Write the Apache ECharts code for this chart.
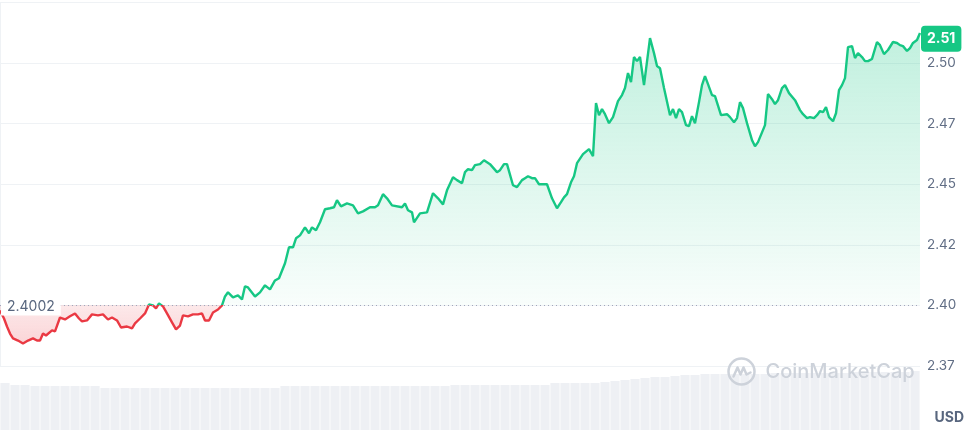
<!DOCTYPE html>
<html><head><meta charset="utf-8">
<script src="https://cdn.jsdelivr.net/npm/echarts@6/dist/echarts.min.js"></script>
<style>html,body{margin:0;padding:0;background:#fff}#c{width:970px;height:438px}</style>
</head><body><div id="c"></div>
<script>
// sample time index (24h window, ~94 s per unit)
const t = [0,4,7,10,13,18,23,28,33,37,40,43,46,48,52,55,57,60,65,70,75,79,82,87,92,98,103,108,112,117,121,127,132,135,140,145,149,153,156,159,163,167,172,176,180,183,188,193,198,202,205,209,213,218,222,225,228,233,238,242,245,248,255,260,265,270,275,279,285,289,293,296,300,305,309,312,316,320,325,330,334,337,341,347,353,358,363,370,375,378,383,387,392,402,405,408,412,414,420,427,433,438,443,447,453,457,462,465,468,472,475,480,484,490,497,500,504,507,513,517,522,525,528,532,535,539,547,552,557,561,564,567,571,574,577,579,583,585,589,593,596,599,602,605,609,613,615,618,622,625,628,631,634,637,640,644,650,654,657,660,664,670,673,676,679,682,686,689,692,695,699,702,705,708,712,715,721,727,730,734,737,740,743,747,752,755,758,765,768,772,775,778,782,785,789,795,800,803,807,810,814,817,820,823,826,829,833,836,839,842,845,848,852,855,858,862,865,868,872,874,877,880,884,888,893,897,900,903,907,910,913,917,920];
const price = [2.3979,2.3946,2.3913,2.3884,2.3864,2.3855,2.3843,2.3855,2.3864,2.3855,2.3855,2.3884,2.3876,2.3884,2.3897,2.3893,2.3893,2.3950,2.3942,2.3955,2.3967,2.3946,2.3934,2.3938,2.3963,2.3959,2.3963,2.3942,2.3950,2.3938,2.3909,2.3913,2.3905,2.3926,2.3946,2.3967,2.4004,2.4000,2.3988,2.4008,2.3996,2.3967,2.3930,2.3901,2.3917,2.3959,2.3955,2.3963,2.3963,2.3967,2.3938,2.3938,2.3971,2.3983,2.4000,2.4037,2.4054,2.4033,2.4041,2.4025,2.4079,2.4074,2.4037,2.4054,2.4083,2.4066,2.4103,2.4112,2.4174,2.4240,2.4240,2.4277,2.4289,2.4322,2.4298,2.4322,2.4310,2.4343,2.4397,2.4401,2.4405,2.4434,2.4409,2.4421,2.4413,2.4380,2.4388,2.4405,2.4405,2.4413,2.4459,2.4442,2.4413,2.4405,2.4421,2.4393,2.4384,2.4343,2.4380,2.4384,2.4463,2.4442,2.4417,2.4475,2.4529,2.4517,2.4504,2.4550,2.4562,2.4558,2.4579,2.4583,2.4599,2.4583,2.4550,2.4558,2.4583,2.4583,2.4496,2.4488,2.4517,2.4525,2.4533,2.4525,2.4525,2.4500,2.4500,2.4442,2.4401,2.4426,2.4446,2.4459,2.4508,2.4533,2.4587,2.4591,2.4624,2.4620,2.4645,2.4616,2.4835,2.4785,2.4810,2.4789,2.4752,2.4777,2.4785,2.4843,2.4868,2.4897,2.4959,2.4921,2.5025,2.5008,2.5025,2.4909,2.5103,2.5041,2.4988,2.4979,2.4897,2.4785,2.4810,2.4773,2.4810,2.4798,2.4744,2.4740,2.4781,2.4752,2.4839,2.4909,2.4946,2.4913,2.4868,2.4864,2.4785,2.4789,2.4777,2.4756,2.4773,2.4839,2.4814,2.4752,2.4682,2.4657,2.4674,2.4744,2.4872,2.4851,2.4831,2.4847,2.4897,2.4909,2.4876,2.4847,2.4806,2.4789,2.4773,2.4777,2.4773,2.4785,2.4802,2.4798,2.4818,2.4777,2.4760,2.4793,2.4888,2.4909,2.4938,2.5066,2.5070,2.5021,2.5041,2.5025,2.5008,2.5008,2.5017,2.5012,2.5087,2.5074,2.5037,2.5054,2.5087,2.5083,2.5074,2.5070,2.5050,2.5062,2.5083,2.5095,2.5124];
const basePrice = 2.4002;
const lastPriceLabel = '2.51';
// relative 24h volume bars
const volume = [47,45,45,44,44,44,44,44,44,44,42,42,42,42,42,42,42,42,42,42,42,42,42,42,42,42,42,42,44,44,44,44,44,44,44,44,44,44,44,44,44,44,44,44,44,45,45,45,45,45,45,45,45,45,45,47,47,47,47,47,48,49,50,51,52,53,53,54,55,55,56,56,56,56,56,56,56,57,57,57,57,57,57,57,57,58,58,58,58,58,58,59];
const yTicks = [2.375,2.4,2.425,2.45,2.475,2.5,2.525];

const GREEN = '#16c784', RED = '#ea3943';
const lineData = t.map((x,i)=>[x, price[i]]);
const upData = t.map((x,i)=>[x, Math.max(price[i], basePrice)]);
const dnData = t.map((x,i)=>[x, Math.min(price[i], basePrice)]);
const lastPrice = price[price.length-1];

const chart = echarts.init(document.getElementById('c'), null, {renderer:'canvas'});
chart.setOption({
  animation:false,
  grid:[
    {left:0, right:50, top:2.5, bottom:72},
    {left:0, right:50, top:330, bottom:8}
  ],
  xAxis:[
    {type:'value', min:0, max:920, show:false, gridIndex:0},
    {type:'category', gridIndex:1, show:false, boundaryGap:true, data:volume.map((v,i)=>i)}
  ],
  yAxis:[
    {type:'value', gridIndex:0, position:'right', min:yTicks[0], max:yTicks[yTicks.length-1], interval:0.025,
     axisLine:{show:true, lineStyle:{color:'#eff2f5'}}, axisTick:{show:false},
     splitLine:{lineStyle:{color:'#eff2f5', width:1}},
     axisLabel:{margin:7, color:'#616e85', fontSize:13.5, fontFamily:'Inter, sans-serif', showMaxLabel:false,
       formatter:v=>(Math.floor(v*100+1e-6)/100).toFixed(2)}},
    {type:'value', gridIndex:1, min:0, max:100, show:false}
  ],
  visualMap:{type:'piecewise', show:false, seriesIndex:2, dimension:1,
    pieces:[{gt:2.0, lte:basePrice, color:RED},{gt:basePrice, lte:3.0, color:GREEN}]},
  series:[
    {type:'bar', xAxisIndex:1, yAxisIndex:1, data:volume, barCategoryGap:'8%', itemStyle:{color:'#eef0f4'}, silent:true, z:1},
    {type:'line', xAxisIndex:0, yAxisIndex:0, data:upData, symbol:'none', lineStyle:{width:0}, silent:true, z:2,
     areaStyle:{origin:basePrice, color:new echarts.graphic.LinearGradient(0,0,0,1,[{offset:0,color:'rgba(22,199,132,0.38)'},{offset:1,color:'rgba(22,199,132,0.04)'}])}},
    {type:'line', xAxisIndex:0, yAxisIndex:0, data:lineData, symbol:'none', lineStyle:{width:2.4}, z:4, clip:false,
     markLine:{symbol:'none', silent:true, animation:false,
       data:[
        {yAxis:basePrice, lineStyle:{color:'#a1a7bb', type:[1,3], width:1}, label:{show:false}},
        {yAxis:lastPrice, lineStyle:{color:'rgba(0,0,0,0)', width:0},
         label:{show:true, position:'end', formatter:lastPriceLabel, color:'#fff', fontWeight:'bold', fontSize:14, fontFamily:'Inter, sans-serif',
                backgroundColor:GREEN, borderRadius:4, padding:[6,6,6,6], distance:1}}
       ]},
     markPoint:{silent:true, animation:false, symbol:'rect', symbolSize:0,
       data:[{coord:[t[0], basePrice],
         label:{show:true, position:'right', distance:1, offset:[0,2], formatter:String(basePrice), color:'#58667e', fontSize:14, fontFamily:'Inter, sans-serif',
                backgroundColor:'#fff', padding:[2,6,1,6]}}]}},
    {type:'line', xAxisIndex:0, yAxisIndex:0, data:dnData, symbol:'none', lineStyle:{width:0}, silent:true, z:3,
     areaStyle:{origin:basePrice, color:new echarts.graphic.LinearGradient(0,0,0,1,[{offset:0,color:'rgba(234,57,67,0.16)'},{offset:1,color:'rgba(234,57,67,0.30)'}])}}
  ],
  graphic:[
    {type:'text', right:6, top:411, z:20, style:{text:'USD', fill:'#58667e', font:'bold 14px Inter, sans-serif'}},
    {type:'group', left:726, top:356, z:20, children:[
      {type:'circle', z:20, shape:{cx:14, cy:14, r:13}, style:{fill:'none', stroke:'#cdd2da', lineWidth:2.5}},
      {type:'polyline', z:20, shape:{points:[[6,19],[10,10],[13,17],[16,10],[19,17],[23,15]]}, style:{fill:'none', stroke:'#cdd2da', lineWidth:2.5, lineJoin:'round', lineCap:'round'}},
      {type:'text', z:20, x:38, y:4, style:{text:'CoinMarketCap', fill:'#cdd2da', font:'500 20px Inter, sans-serif'}}
    ]}
  ]
});
</script></body></html>
